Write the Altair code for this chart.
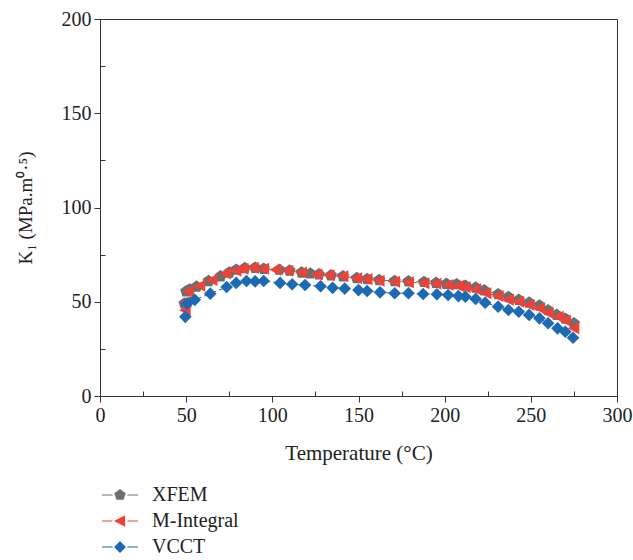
import altair as alt
import pandas as pd

series_names = ["XFEM", "M-Integral", "VCCT"]
series_colors = ["#6d6e70", "#ee4236", "#1b6ab3"]

xfem_T = [49, 50, 52, 56, 63, 70, 75, 79, 84, 90, 95, 104, 110, 117, 122, 127, 134, 141, 149, 155,
          162, 171, 179, 188, 195, 201, 207, 212, 218, 223, 231, 237, 243, 249, 255, 260, 265, 270, 275]
xfem_K = [49, 55.5, 56.5, 58, 61, 63.5, 65.5, 67, 67.8, 68, 67.5, 67, 66.5, 65.5, 65, 64.5, 64, 63.5, 62.5, 62,
          61.5, 61, 60.8, 60.5, 60, 59.5, 59.3, 58.5, 57.5, 56, 54, 52.5, 51, 49.5, 48, 45.5, 43, 41, 38.5]

mint_T = [49.5, 50, 51.5, 58, 65, 73, 79, 83, 89, 95, 102, 109, 117, 126, 133, 141, 149, 155, 162, 171,
          179, 188, 195, 202, 208, 212, 218, 224, 231, 237, 243, 249, 255, 260, 266, 270, 275]
mint_K = [45.5, 50, 55.5, 58.5, 61.5, 65, 66.5, 67.5, 68, 67.5, 67, 66.5, 65.5, 64.5, 64, 63.5, 62.5, 62, 61.2, 60.6,
          60.4, 59.8, 59.6, 58.9, 58.4, 57.7, 56.6, 54.5, 53, 51, 50, 48.3, 46.5, 44, 42, 40, 36]

vcct_T = [49.5, 50.5, 55, 64, 73.5, 79, 85, 90, 95, 104.5, 111.5, 119, 128, 135, 142, 150, 155, 162.5, 171, 179,
          187.5, 195.5, 202, 208, 212, 218, 223.5, 231, 237, 243, 249, 255, 260, 265.5, 270, 274.5]
vcct_K = [42, 49, 51, 54.3, 57.8, 60, 61, 60.8, 61, 60, 59.3, 58.9, 58.2, 57.4, 57, 56.2, 55.7, 55, 54.5, 54.5,
          54.1, 54, 53.6, 53, 52.7, 51.5, 49.5, 47.4, 45.6, 44.7, 43, 41.2, 38.6, 35.9, 34.1, 30.9]

x_major = [0, 50, 100, 150, 200, 250, 300]
x_minor = [25, 75, 125, 175, 225, 275]
y_major = [0, 50, 100, 150, 200]
y_minor = [25, 75, 125, 175]

pent = "M0,-1L0.951,-0.309L0.588,0.809L-0.588,0.809L-0.951,-0.309Z"
tri = "M-1,0L0.85,-0.95L0.85,0.95Z"
diam = "M0,-1L1,0L0,1L-1,0Z"
marker_paths = [pent, tri, diam]
seg = "M-3,-0.09H-1.25V0.09H-3ZM1.25,-0.09H3V0.09H1.25Z"
legend_paths = [seg + p for p in marker_paths]

rows = []
for name, ts, ks in [("XFEM", xfem_T, xfem_K), ("M-Integral", mint_T, mint_K), ("VCCT", vcct_T, vcct_K)]:
    for t, k in zip(ts, ks):
        rows.append({"series": name, "T": t, "K": k})
df = pd.DataFrame(rows)

FONT = "Liberation Serif"
xscale = alt.Scale(domain=[0, 300], nice=False, zero=False)
yscale = alt.Scale(domain=[0, 200], nice=False, zero=False)
color_scale = alt.Scale(domain=series_names, range=series_colors)
color = alt.Color("series:N", scale=color_scale, legend=None)

legend_def = alt.Legend(orient="none", legendX=10, legendY=466, title=None,
                        labelFont=FONT, labelFontSize=20, labelColor="#222",
                        labelOffset=22, rowPadding=6, padding=0, symbolSize=144,
                        symbolOpacity=1)

base = alt.Chart(df)

lines = base.mark_line(strokeWidth=1, strokeDash=[5, 3]).encode(
    x=alt.X("T:Q", scale=xscale, axis=alt.Axis(
        values=x_major, orient="bottom", title="Temperature (°C)", titleX=258.5, titleY=57,
        titleBaseline="middle", titleFont=FONT, titleFontSize=21, titleFontWeight="normal",
        titleColor="#222", labelFlush=False)),
    y=alt.Y("K:Q", scale=yscale, axis=alt.Axis(
        values=y_major, orient="left", title="K\u2081 (MPa.m\u2070\u00b7\u2075)", titleX=-75, titleY=188.5,
        titleAngle=-90, titleAlign="center", titleBaseline="middle", titleFont=FONT, titleFontSize=19,
        titleFontWeight="normal", titleColor="#222", labelFlush=False)),
    color=color,
    order="T:Q",
)

points = base.mark_point(filled=True, size=160, opacity=1).encode(
    x=alt.X("T:Q", scale=xscale, axis=alt.Axis(
        values=x_minor, orient="bottom", labels=False, domain=False, title=None, offset=-5, tickSize=5)),
    y=alt.Y("K:Q", scale=yscale, axis=alt.Axis(
        values=y_minor, orient="left", labels=False, domain=False, title=None, offset=-5, tickSize=5)),
    color=color,
    shape=alt.Shape("series:N", scale=alt.Scale(domain=series_names, range=marker_paths), legend=None),
)

legend_layer = base.transform_filter("false").mark_point(filled=True, size=144, opacity=1).encode(
    x=alt.X("T:Q", scale=xscale, axis=None),
    y=alt.Y("K:Q", scale=yscale, axis=None),
    color=alt.Color("series:N", scale=color_scale, legend=legend_def),
    shape=alt.Shape("series:N", scale=alt.Scale(domain=series_names, range=legend_paths),
                    legend=legend_def),
)

chart = alt.layer(lines, points, legend_layer).resolve_scale(
    shape="independent", color="independent"
).resolve_axis(
    x="independent", y="independent"
).properties(
    width=517, height=377,
    autosize=alt.AutoSizeParams(type="none"),
    padding={"left": 100, "top": 19, "right": 16, "bottom": 164},
).configure_axis(
    labelFont=FONT, labelFontSize=20, labelColor="#222", domainColor="#333", tickColor="#333",
    tickSize=6, labelPadding=3, grid=False, domainWidth=1, tickWidth=1,
).configure_view(
    stroke="#333", strokeWidth=1,
)

chart.save("out.html", embed_options={"renderer": "svg", "actions": False})
